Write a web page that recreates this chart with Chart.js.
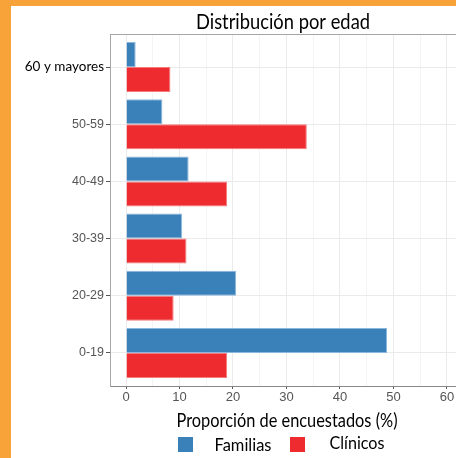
<!DOCTYPE html>
<html>
<head>
<meta charset="utf-8">
<script src="https://cdn.jsdelivr.net/npm/chart.js@4.4.1/dist/chart.umd.min.js"></script>
<style>
  html, body { margin: 0; padding: 0; }
  body { width: 456px; height: 458px; background: #F8A33A; position: relative; overflow: hidden; }
  #panel { position: absolute; left: 11px; top: 6px; width: 445px; height: 452px; background: #fff; }
  canvas { display: block; }
</style>
</head>
<body>
<div id="panel"><canvas id="chart" width="445" height="452"></canvas></div>
<script>
// age groups, top to bottom
const categories = ['60 y mayores', '50-59', '40-49', '30-39', '20-29', '0-19'];
const familias = [1.8, 6.8, 11.7, 10.5, 20.6, 48.8];
const clinicos = [8.3, 33.8, 18.9, 11.3, 8.9, 18.9];
const xTicks = [0, 5, 10, 15, 20, 25, 30, 35, 40, 45, 50, 55, 60];

const chartTitle = 'Distribución por edad';
const xTitle = 'Proporción de encuestados (%)';

const blue = '#3A80B9';
const red = '#EE2B2E';

// draw a text squeezed to a given width (the original font is narrower than what we have)
function fitText(ctx, text, cx, cy, font, width, color) {
    ctx.save();
    ctx.font = font;
    ctx.fillStyle = color;
    ctx.textAlign = 'center';
    ctx.textBaseline = 'middle';
    const w = ctx.measureText(text).width;
    ctx.translate(cx, cy);
    ctx.scale(width / w, 1);
    ctx.fillText(text, 0, 0);
    ctx.restore();
}

const decorations = {
    id: 'decorations',
    afterDraw(chart) {
        const ctx = chart.ctx;
        const area = chart.chartArea;

        // top border of the panel
        ctx.save();
        ctx.strokeStyle = '#A6A6A6';
        ctx.lineWidth = 1;
        ctx.beginPath();
        ctx.moveTo(area.left, area.top + 0.5);
        ctx.lineTo(area.right, area.top + 0.5);
        ctx.stroke();
        ctx.restore();

        fitText(ctx, chartTitle, 272, 16, '22px Lato', 174, '#000');
        fitText(ctx, xTitle, 276, 415, '20px Lato', 221, '#000');

        // legend
        const items = chart.data.datasets;
        const boxX = [167, 279];
        const textX = [232, 346];
        const textY = [439, 437];
        const textW = [57, 55];
        items.forEach(function (ds, i) {
            ctx.fillStyle = ds.backgroundColor;
            ctx.fillRect(boxX[i], 431, 15, 15);
            fitText(ctx, ds.label, textX[i], textY[i], '18px Lato', textW[i], '#000');
        });
    }
};

const ctx = document.getElementById('chart').getContext('2d');
new Chart(ctx, {
    type: 'bar',
    data: {
        datasets: [{
            label: 'Familias',
            data: familias.map((v, i) => ({ x: v, y: i })),
            backgroundColor: blue,
            borderColor: '#8DB7DD',
            borderWidth: 1
        }, {
            label: 'Clínicos',
            data: clinicos.map((v, i) => ({ x: v, y: i })),
            backgroundColor: red,
            borderColor: '#F47A7C',
            borderWidth: 1
        }]
    },
    plugins: [decorations],
    options: {
        indexAxis: 'y',
        responsive: false,
        animation: false,
        categoryPercentage: 0.874,
        barPercentage: 1,
        layout: { padding: { top: 28, left: 0, right: 0, bottom: 0 } },
        plugins: {
            legend: { display: false },
            title: { display: false },
            tooltip: { enabled: false }
        },
        scales: {
            x: {
                type: 'linear',
                min: -3,
                max: 61.7,
                afterBuildTicks: function (scale) {
                    scale.ticks = xTicks.map(v => ({ value: v }));
                },
                afterFit: function (scale) { scale.height = 72; },
                ticks: {
                    padding: 1,
                    color: '#555',
                    font: { family: 'Liberation Sans', size: 13 },
                    maxRotation: 0,
                    callback: v => (v % 10 === 0 ? String(v) : '')
                },
                grid: {
                    color: c => (c.tick && c.tick.value % 10 === 0 ? '#EBEBEB' : '#F4F4F4'),
                    tickColor: c => (c.tick && c.tick.value % 10 === 0 ? '#555' : 'rgba(0,0,0,0)'),
                    tickLength: 3
                },
                border: { color: '#888', width: 1 }
            },
            y: {
                type: 'linear',
                offset: false,
                min: -0.577,
                max: 5.577,
                reverse: true,
                afterBuildTicks: function (scale) {
                    scale.ticks = categories.map((c, i) => ({ value: i }));
                },
                afterFit: function (scale) { scale.width = 99; },
                ticks: {
                    padding: 2,
                    color: c => (c.index === 0 ? '#000' : '#555'),
                    font: c => (c.index === 0 ? { family: 'Lato', size: 13.5 } : { family: 'Liberation Sans', size: 12.5 }),
                    callback: v => categories[v]
                },
                grid: {
                    offset: false,
                    color: '#EBEBEB',
                    tickColor: '#555',
                    tickLength: 4
                },
                border: { color: '#A6A6A6', width: 1 }
            }
        }
    }
});
</script>
</body>
</html>
